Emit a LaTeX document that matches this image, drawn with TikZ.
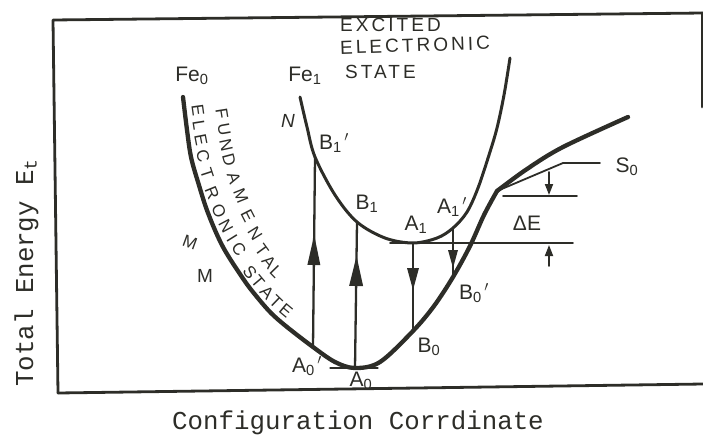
\documentclass[tikz,border=0pt]{standalone}
\usepackage{fontspec}
\setmainfont{Liberation Sans}
\setmonofont{Liberation Mono}
\usetikzlibrary{arrows.meta,decorations.markings}
\definecolor{ink}{RGB}{45,45,40}
\begin{document}
\begin{tikzpicture}[x=1pt,y=-1pt,color=ink,line cap=round,line join=round,
  frame/.style={line width=2.8pt},
  ground/.style={line width=4.3pt},
  excited/.style={line width=3pt},
  trans/.style={line width=2.3pt},
  thin/.style={line width=1.8pt},
  lbl/.style={font=\fontsize{21}{21}\selectfont,inner sep=0pt},
  headtxt/.style={font=\fontsize{19}{19}\selectfont\addfontfeature{LetterSpace=16},inner sep=0pt,anchor=west},
  axis/.style={font=\ttfamily\fontsize{25.8}{26}\selectfont,inner sep=0pt},
  ctx/.style={inner sep=0pt,font=\fontsize{17}{17}\selectfont},
  midtri/.style n args={3}{postaction={decorate,decoration={markings,
      mark=at position #1 with {\fill (0pt,0pt) -- (-#2,0.5*#3) -- (-#2,-0.5*#3) -- cycle;}}}},
  smallarr/.style={thin,-{Triangle[length=11pt,width=8pt]}}]
\useasboundingbox (0,0) rectangle (703,434);

% frame
\coordinate (TL) at (53,20);
\coordinate (TR) at (703,13);
\coordinate (BL) at (58,393);
\coordinate (BR) at (703,384);
\coordinate (Rt) at (702,13);
\coordinate (Rb) at (702,107);
\draw[frame] (BL) -- (TL) -- (TR);
\draw[frame] (BL) -- (BR);
\draw[frame] (Rt) -- (Rb);

% key points
\coordinate (G0) at (183,97);
\coordinate (A0p) at (313,347);
\coordinate (A0) at (355,368);
\coordinate (B0) at (413,331);
\coordinate (B0p) at (453,277);
\coordinate (K) at (497,191);
\coordinate (Gend) at (628,117);
\coordinate (E0) at (300,97);
\coordinate (B1p) at (315,157);
\coordinate (B1) at (357,222);
\coordinate (A1) at (413,243);
\coordinate (A1p) at (453,228);
\coordinate (E1) at (510,58);

% fundamental state curve
\draw[ground] plot[smooth,tension=0.55] coordinates {(G0) (187,130) (191,157) (198,182) (208,213) (223,247) (244,280) (257,297) (271,313) (287,327) (A0p) (335,362) (A0) (380,362) (B0) (434,306) (B0p) (470,246) (484,215) (K)};
\draw[ground] plot[smooth,tension=0.55] coordinates {(K) (527,169) (563,147) (Gend)};

% excited state curve
\draw[excited] plot[smooth,tension=0.55] coordinates {(E0) (307,127) (B1p) (335,195) (B1) (385,238) (A1) (437,238) (A1p) (467,212) (478,188) (489,155) (497,128) (504,95) (E1)};

% S0 branch
\coordinate (S0a) at (563,163);
\coordinate (S0b) at (600,163);
\draw[thin] (K) -- (S0a) -- (S0b);

% Delta E lines
\coordinate (L1a) at (390,243);
\coordinate (L1b) at (573,243);
\coordinate (L2a) at (503,196);
\coordinate (L2b) at (577,196);
\draw[thin] (L1a) -- (L1b);
\draw[thin] (L2a) -- (L2b);
\coordinate (dA) at (549,172);
\coordinate (dB) at (549,195);
\coordinate (uA) at (549,266);
\coordinate (uB) at (549,245);
\draw[smallarr] (dA) -- (dB);
\draw[smallarr] (uA) -- (uB);

% tangent mark at A0
\coordinate (T0a) at (330,368);
\coordinate (T0b) at (378,368);
\draw[line width=1.2pt] (T0a) -- (T0b);

% transitions
\draw[trans,midtri={112pt}{30pt}{13pt}] (A0p) -- (B1p);
\draw[trans,midtri={112pt}{30pt}{14pt}] (A0) -- (B1);
\draw[trans,midtri={47pt}{22pt}{12pt}] (A1) -- (B0);
\draw[trans,midtri={40pt}{18pt}{10pt}] (A1p) -- (B0p);

% curve text: FUNDAMENTAL
\node[ctx,rotate=-81] (f1) at (222,114) {F};
\node[ctx,rotate=-80] (f2) at (224,130) {U};
\node[ctx,rotate=-78] (f3) at (226,145) {N};
\node[ctx,rotate=-75] (f4) at (229,160) {D};
\node[ctx,rotate=-72] (f5) at (234,178) {A};
\node[ctx,rotate=-68] (f6) at (241,196) {M};
\node[ctx,rotate=-63] (f7) at (248,216) {E};
\node[ctx,rotate=-58] (f8) at (255,234) {N};
\node[ctx,rotate=-54] (f9) at (262,250) {T};
\node[ctx,rotate=-50] (f10) at (269,262) {A};
\node[ctx,rotate=-46] (f11) at (276,272) {L};
% curve text: ELECTRONIC STATE
\node[ctx,rotate=-82] (e1) at (198,110) {E};
\node[ctx,rotate=-81] (e2) at (199,125) {L};
\node[ctx,rotate=-79] (e3) at (201,140) {E};
\node[ctx,rotate=-76] (e4) at (203,156) {C};
\node[ctx,rotate=-72] (e5) at (207,174) {T};
\node[ctx,rotate=-68] (e6) at (212,193) {R};
\node[ctx,rotate=-65] (e7) at (219,211) {O};
\node[ctx,rotate=-62] (e8) at (226,226) {N};
\node[ctx,rotate=-58] (e9) at (232,238) {I};
\node[ctx,rotate=-55] (e10) at (239,249) {C};
\node[ctx,rotate=-52] (e11) at (250,272) {S};
\node[ctx,rotate=-50] (e12) at (258,282) {T};
\node[ctx,rotate=-47] (e13) at (267,293) {A};
\node[ctx,rotate=-44] (e14) at (276,302) {T};
\node[ctx,rotate=-40] (e15) at (286,311) {E};

% labels
\node[lbl] (lFe0) at (192,76) {Fe\textsubscript{0}};
\node[lbl] (lFe1) at (305,76) {Fe\textsubscript{1}};
\node[lbl,font=\fontsize{19}{19}\selectfont\itshape] (lN) at (288,121) {N};
\node[lbl] (lB1p) at (334,143) {B\textsubscript{1}\textsuperscript{\,$\prime$}};
\node[lbl] (lB1) at (367,204) {B\textsubscript{1}};
\node[lbl] (lA1) at (416,225) {A\textsubscript{1}};
\node[lbl] (lA1p) at (452,207) {A\textsubscript{1}\textsuperscript{\,$\prime$}};
\node[lbl] (lB0p) at (474,293) {B\textsubscript{0}\textsuperscript{\,$\prime$}};
\node[lbl] (lB0) at (429,347) {B\textsubscript{0}};
\node[lbl] (lA0) at (361,381) {A\textsubscript{0}};
\node[lbl] (lA0p) at (307,366) {A\textsubscript{0}\textsuperscript{\,$\prime$}};
\node[lbl] (lDE) at (527,223) {ΔE};
\node[lbl] (lS0) at (627,167) {S\textsubscript{0}};
\node[lbl,font=\fontsize{17}{17}\selectfont,rotate=-20] (lM1) at (190,242) {M};
\node[lbl,font=\fontsize{19}{19}\selectfont] (lM2) at (205,276) {M};

\node[headtxt] (ex1) at (340,25) {EXCITED};
\node[headtxt,rotate=2] (ex2) at (340,48) {ELECTRONIC};
\node[headtxt] (ex3) at (345,72) {STATE};

% axis labels
\node[axis,rotate=90,anchor=base west] (ylab) at (33,387) {Total Energy E\textsubscript{t}};
\node[axis,anchor=base west] (xlab) at (172,429) {Configuration Corrdinate};
\end{tikzpicture}
\end{document}
